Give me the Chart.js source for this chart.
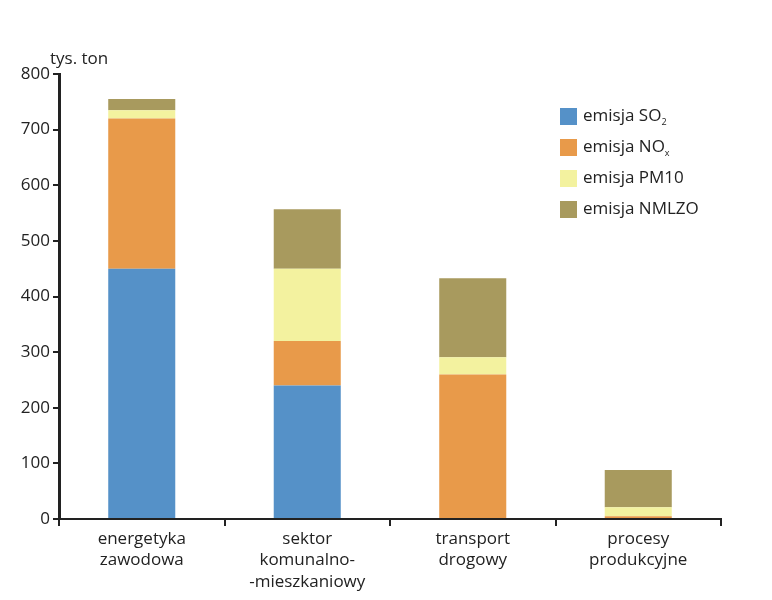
<!DOCTYPE html>
<html lang="pl">
<head>
<meta charset="UTF-8">
<title>Emisja</title>
<script src="https://cdn.jsdelivr.net/npm/chart.js@4.4.0/dist/chart.umd.min.js"></script>
<style>
  body { margin: 0; background: #fff; }
  #wrap { position: relative; width: 772px; height: 600px; }
  #legend { position: absolute; left: 560px; top: 103px; font-family: "Open Sans", sans-serif; font-size: 17px; color: #222; }
  #legend div { height: 31px; display: flex; align-items: flex-start; }
  #legend span.box { display: inline-block; width: 17px; height: 17px; margin-right: 6px; margin-top: 5px; }
  #legend sub { font-size: 9px; }
</style>
<script>
    var categories = [["energetyka", "zawodowa"], ["sektor", "komunalno-", "-mieszkaniowy"], ["transport", "drogowy"], ["procesy", "produkcyjne"]];
    var so2 = [450, 240, 0, 0];
    var nox = [270, 80, 260, 5];
    var pm10 = [15, 130, 31, 16];
    var nmlzo = [20, 107, 142, 67];
    var seriesNames = ["emisja SO<sub>2</sub>", "emisja NO<sub>x</sub>", "emisja PM10", "emisja NMLZO"];
    var seriesColors = ["#5591c8", "#e89a4a", "#f3f29f", "#a89a5e"];
    var yTicks = [0, 100, 200, 300, 400, 500, 600, 700, 800];

    window.onload = function () {
        var allData = [so2, nox, pm10, nmlzo];
        var dataSets = [];
        for (var i = 0; i < allData.length; i++) {
            dataSets.push({
                label: seriesNames[i].replace(/<[^>]+>/g, ''),
                data: allData[i],
                backgroundColor: seriesColors[i],
                borderWidth: 0,
                categoryPercentage: 1,
                barPercentage: 0.405
            });
        }

        // legend with subscripts
        var legend = document.getElementById('legend');
        for (var j = 0; j < seriesNames.length; j++) {
            var row = document.createElement('div');
            row.innerHTML = '<span class="box" style="background:' + seriesColors[j] + '"></span><span>' + seriesNames[j] + '</span>';
            legend.appendChild(row);
        }

        var unitLabel = {
            id: 'unitLabel',
            afterDraw: function (chart) {
                var ctx = chart.ctx;
                var y = chart.scales.y;
                ctx.save();
                ctx.font = '17px "Open Sans"';
                ctx.fillStyle = '#222';
                ctx.textAlign = 'left';
                ctx.textBaseline = 'alphabetic';
                ctx.fillText('tys. ton', 50, y.top - 10);
                ctx.restore();
            }
        };

        Chart.defaults.font.family = '"Open Sans", sans-serif';
        Chart.defaults.color = '#222';

        var ctx = document.getElementById('myChart');
        new Chart(ctx, {
            type: 'bar',
            data: {
                labels: categories,
                datasets: dataSets
            },
            options: {
                responsive: false,
                animation: false,
                layout: { padding: { top: 74, right: 51, left: 0, bottom: 0 } },
                plugins: {
                    legend: { display: false },
                    tooltip: { enabled: false }
                },
                scales: {
                    x: {
                        stacked: true,
                        offset: true,
                        grid: { offset: true, drawOnChartArea: false, drawTicks: true, tickLength: 7, color: '#222', lineWidth: 2 },
                        border: { display: true, color: '#222', width: 2 },
                        ticks: { font: { size: 17, lineHeight: 1.28 }, color: '#222', padding: 2, maxRotation: 0, autoSkip: false },
                        afterFit: function (scale) { scale.height = 81; }
                    },
                    y: {
                        stacked: true,
                        min: 0,
                        max: 800,
                        afterBuildTicks: function (scale) {
                            scale.ticks = yTicks.map(function (v) { return { value: v }; });
                        },
                        grid: { drawOnChartArea: false, drawTicks: true, tickLength: 6, color: '#222', lineWidth: 2 },
                        border: { display: true, color: '#222', width: 3 },
                        ticks: { font: { size: 17 }, color: '#222', padding: 3 },
                        afterFit: function (scale) { scale.width = 59; }
                    }
                }
            },
            plugins: [unitLabel]
        });
    };
</script>
</head>
<body>
<div id="wrap">
    <canvas id="myChart" width="772" height="600" style="width:772px;height:600px"></canvas>
    <div id="legend"></div>
</div>
</body>
</html>
